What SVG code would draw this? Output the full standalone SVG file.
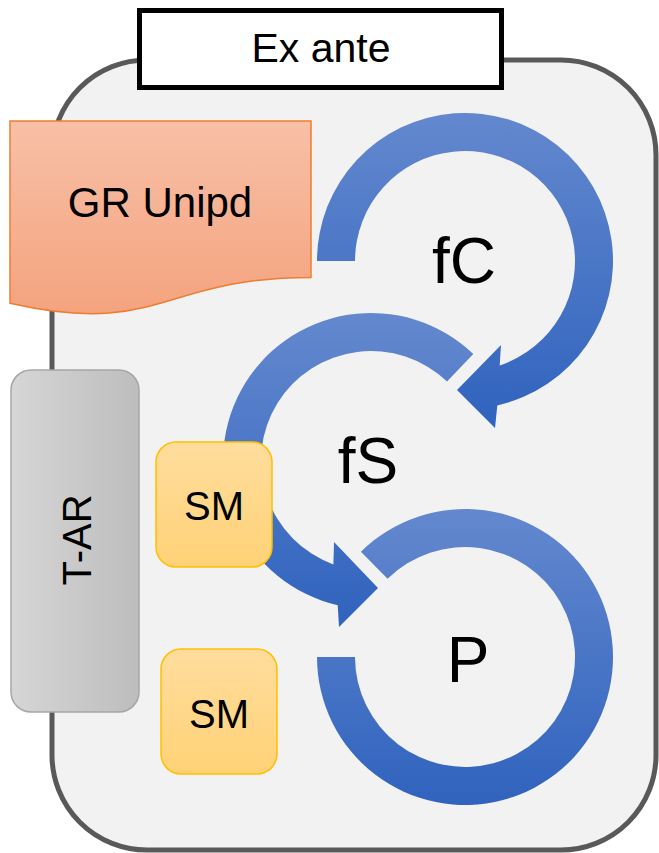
<svg xmlns="http://www.w3.org/2000/svg" width="659" height="853" viewBox="0 0 659 853">
  <defs>
    <linearGradient id="gBlue" x1="0" y1="0" x2="0" y2="1">
      <stop offset="0" stop-color="#6388CE"/>
      <stop offset="1" stop-color="#3063BE"/>
    </linearGradient>
    <linearGradient id="gOrange" x1="0" y1="0" x2="0" y2="1">
      <stop offset="0" stop-color="#F8C0A7"/>
      <stop offset="1" stop-color="#F4A37E"/>
    </linearGradient>
    <linearGradient id="gGray" x1="0" y1="0" x2="1" y2="0">
      <stop offset="0" stop-color="#D6D6D6"/>
      <stop offset="1" stop-color="#BDBDBD"/>
    </linearGradient>
    <linearGradient id="gYellow" x1="0" y1="0" x2="0" y2="1">
      <stop offset="0" stop-color="#FFDD9D"/>
      <stop offset="1" stop-color="#FFD277"/>
    </linearGradient>
    <style>
      .lbl { font-family: "Liberation Sans", Arial, sans-serif; fill: #000; text-anchor: middle; }
      .m { font-size: 40px; }
      .b { font-size: 64px; }
      .arrow { fill: url(#gBlue); stroke: none; }
      .sm { fill: url(#gYellow); stroke: #FFC000; stroke-width: 1.5; }
    </style>
  </defs>

  <g id="container">
    <rect x="52" y="60" width="604" height="790" rx="95" ry="95" fill="#F2F2F2" stroke="#595959" stroke-width="5"/>
  </g>

  <g id="exante">
    <rect x="139.5" y="10.5" width="362" height="77" fill="#FFFFFF" stroke="#000000" stroke-width="5"/>
    <text class="lbl m" x="321" y="62" style="font-size:41px">Ex ante</text>
  </g>

  <g id="grunipd">
    <path d="M10,121 H311 V277.4 C160.5,277.4 160.5,337.4 10,303.2 Z" fill="url(#gOrange)" stroke="#ED7D31" stroke-width="1.5"/>
    <text class="lbl m" x="160" y="217" style="font-size:42px">GR Unipd</text>
  </g>

  <g id="tar">
    <rect x="11" y="370" width="128" height="342" rx="20" ry="20" fill="url(#gGray)" stroke="#A6A6A6" stroke-width="1.5"/>
    <text class="lbl m" transform="translate(91,540) rotate(-90)" x="0" y="0">T-AR</text>
  </g>

  <g id="connectors">
    <path id="arrow-fC" class="arrow" d="M317,261 A148,148 0 1 1 497.3,405.4 L495,428 L457,390 L501,345 L499.7,365.4 A110,110 0 1 0 355,261 Z"/>
    <path id="arrow-fS" class="arrow" d="M473.3,354 A148,148 0 1 0 337.7,605.2 L339,627 L378,588 L334,542 L333.4,564.4 A110,110 0 1 1 447,381.5 Z"/>
    <path id="arc-P" class="arrow" d="M360.9,551.8 A148,148 0 1 1 317,657 L355,657 A110,110 0 1 0 387.6,578.8 Z"/>
  </g>

  <g id="fC">
    <text class="lbl b" x="464" y="283">fC</text>
  </g>
  <g id="fS">
    <text class="lbl b" x="368" y="483">fS</text>
  </g>
  <g id="P">
    <text class="lbl b" x="468" y="682">P</text>
  </g>

  <g id="sm1">
    <rect class="sm" x="156" y="442" width="116" height="125" rx="20" ry="20"/>
    <text class="lbl m" x="214" y="520">SM</text>
  </g>
  <g id="sm2">
    <rect class="sm" x="161" y="649" width="116" height="125" rx="20" ry="20"/>
    <text class="lbl m" x="219" y="728">SM</text>
  </g>
</svg>
